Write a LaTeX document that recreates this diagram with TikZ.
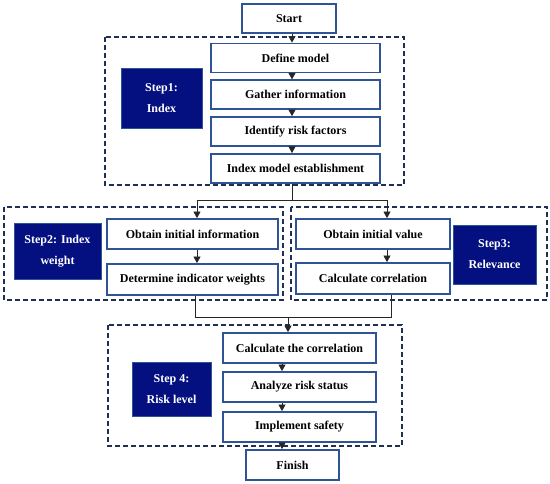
\documentclass[tikz,border=0pt]{standalone}
\usepackage{fontspec}
\setmainfont{Liberation Serif}
\usetikzlibrary{arrows.meta, positioning}
\definecolor{boxline}{RGB}{47,84,150}
\definecolor{stepfill}{RGB}{4,16,128}
\definecolor{groupline}{RGB}{32,48,84}
\tikzset{
  task/.style={draw=boxline, line width=1.8pt, fill=white, minimum height=29pt,
               font=\fontsize{12}{13}\selectfont\bfseries, inner sep=0pt},
  stepbox/.style={fill=stepfill, draw=boxline, line width=0.8pt, text=white,
                  align=center, font=\fontsize{12}{21}\selectfont\bfseries},
  group/.style={draw=groupline, line width=1.4pt, dash pattern=on 5pt off 3pt},
  arrow/.style={-{Triangle[length=6.5pt,width=7pt]}, line width=0.7pt, draw=black!85},
  link/.style={line width=0.7pt, draw=black!85},
}
\begin{document}
\begin{tikzpicture}[x=1pt, y=-1pt]
  \useasboundingbox (0,0) rectangle (550,484);

  % Dashed groups
  \draw[group] (105,37) rectangle (404,185);
  \draw[group] (4,207) rectangle (283,300);
  \draw[group] (291,207) rectangle (547,300);
  \draw[group] (108,325) rectangle (402,446);

  % Step 1
  \node[task, minimum width=94pt] (start) at (289,18.5) {Start};
  \node[task, minimum width=169pt] (define) at (295.5,58) {Define model};
  \node[task, minimum width=169pt, below=6pt of define] (gather) {Gather information};
  \node[task, minimum width=169pt, below=6pt of gather] (identify) {Identify risk factors};
  \node[task, minimum width=169pt, below=6pt of identify] (indexmodel) {Index model establishment};
  \node[stepbox, minimum width=81pt, minimum height=60pt] (step1) at (161.5,98) {Step1:\\Index};

  % Step 2
  \node[task, minimum width=171pt, minimum height=30pt] (obtaininfo) at (192.5,234) {Obtain initial information};
  \node[task, minimum width=171pt, minimum height=31pt] (weights) at (192.5,279.5) {Determine indicator weights};
  \node[stepbox, minimum width=87pt, minimum height=56pt] (step2) at (57.5,251) {Step2: Index\\weight};

  % Step 3
  \node[task, minimum width=154pt, minimum height=30pt] (obtainvalue) at (373,234) {Obtain initial value};
  \node[task, minimum width=154pt, minimum height=31pt] (correlation) at (373,278.5) {Calculate correlation};
  \node[stepbox, minimum width=83pt, minimum height=59pt] (step3) at (494.5,254.5) {Step3:\\Relevance};

  % Step 4
  \node[task, minimum width=153pt, minimum height=30pt] (calccorr) at (299.5,348) {Calculate the correlation};
  \node[task, minimum width=153pt, minimum height=30pt] (analyze) at (299.5,387) {Analyze risk status};
  \node[task, minimum width=153pt, minimum height=30pt] (implement) at (299.5,427) {Implement safety};
  \node[stepbox, minimum width=79pt, minimum height=54pt] (step4) at (171.5,389) {Step 4:\\Risk level};
  \node[task, minimum width=93pt, minimum height=30pt] (finish) at (292.5,465) {Finish};

  % Spines of the connectors
  \coordinate (spineA) at (292,200);
  \coordinate (spineB) at (197,200);
  \coordinate (spineC) at (387,200);
  \coordinate (joinB) at (195,317);
  \coordinate (joinC) at (391,317);
  \coordinate (spineD) at (288,317);
  \coordinate (spineE) at (282,0);

  % Arrows down
  \foreach \a/\b in {start/define, define/gather, gather/identify, identify/indexmodel}
    \draw[arrow] (\a.south -| spineA) -- (\b.north -| spineA);
  \draw[link] (indexmodel.south -| spineA) -- (spineA);
  \draw[arrow] (spineA) -- (spineB) -- (obtaininfo.north -| spineB);
  \draw[arrow] (spineA) -- (spineC) -- (obtainvalue.north -| spineC);
  \draw[arrow] (obtaininfo.south -| spineB) -- (weights.north -| spineB);
  \draw[arrow] (obtainvalue.south -| spineC) -- (correlation.north -| spineC);

  % Merge into step 4
  \draw[link] (weights.south -| joinB) -- (joinB) -- (joinC) -- (correlation.south -| joinC);
  \draw[arrow] (spineD) -- (calccorr.north -| spineD);
  \foreach \a/\b in {calccorr/analyze, analyze/implement, implement/finish}
    \draw[arrow] (\a.south -| spineE) -- (\b.north -| spineE);

\end{tikzpicture}
\end{document}
